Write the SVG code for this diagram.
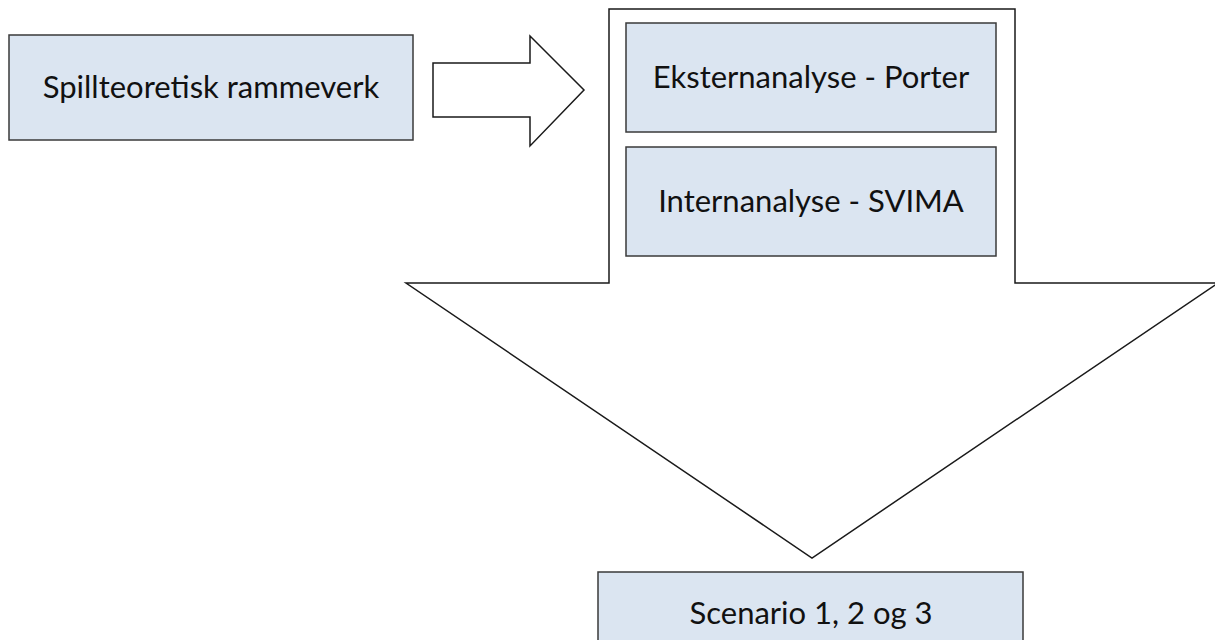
<svg xmlns="http://www.w3.org/2000/svg" width="1215" height="640" viewBox="0 0 1215 640">
<style>
.box{fill:#dbe5f1;stroke:#3a3a3a;stroke-width:1.5}
.shape{fill:#ffffff;stroke:#1a1a1a;stroke-width:1.5;stroke-linejoin:miter}
.lbl{font-family:Lato,"Open Sans",sans-serif;font-size:31px;fill:#111;text-anchor:middle}
</style>
<rect width="1215" height="640" fill="#ffffff"/>
<g id="connectors">
<polygon id="bigArrow" class="shape" points="609,9 1015,9 1015,283 1218,283 812,558 406,283 609,283"/>
<polygon id="rightArrow" class="shape" points="433,63 530,63 530,36 584,90 530,146 530,117 433,117"/>
</g>
<g id="node-spill">
<rect class="box" x="9" y="35" width="404" height="105"/>
<text class="lbl" x="211" y="98">Spillteoretisk rammeverk</text>
</g>
<g id="node-ekstern">
<rect class="box" x="626" y="23" width="370" height="109"/>
<text class="lbl" x="811" y="88">Eksternanalyse - Porter</text>
</g>
<g id="node-intern">
<rect class="box" x="626" y="147" width="370" height="109"/>
<text class="lbl" x="811" y="212">Internanalyse - SVIMA</text>
</g>
<g id="node-scenario">
<rect class="box" x="598" y="572" width="425" height="80"/>
<text class="lbl" x="811" y="624">Scenario 1, 2 og 3</text>
</g>
</svg>
